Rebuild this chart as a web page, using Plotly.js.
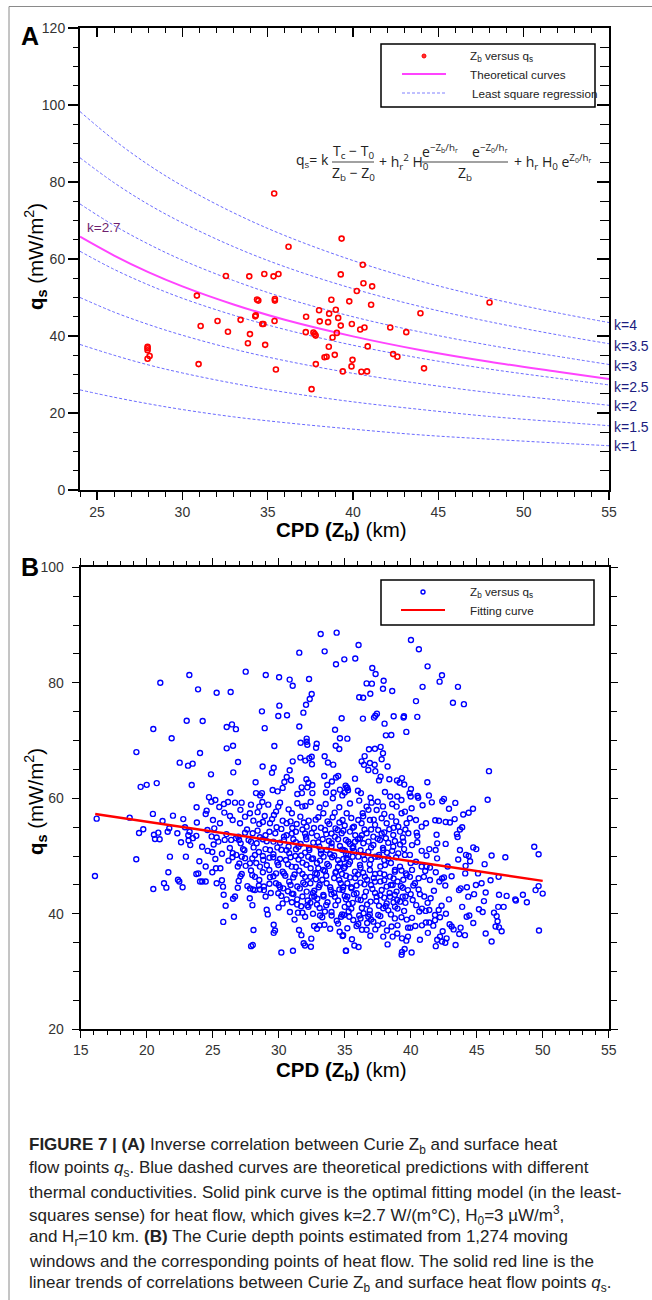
<!DOCTYPE html>
<html><head><meta charset="utf-8">
<script src="https://cdn.plot.ly/plotly-3.0.1.min.js"></script>
<style>html,body{margin:0;padding:0;background:#fff}#chart{width:652px;height:1300px}</style>
</head><body><div id="chart"></div>
<script>
// ---------- Panel A data ----------
const kX = [24, 26, 28, 30, 33, 36, 40, 44, 48, 52, 55];
const kCurve1   = [26.0, 24.1, 22.4, 20.9, 19.0, 17.5, 15.8, 14.3, 13.2, 12.2, 11.5];
const kCurve1p5 = [37.8, 35.0, 32.5, 30.4, 27.7, 25.4, 22.9, 20.9, 19.1, 17.7, 16.7];
const kCurve2   = [50.0, 46.2, 43.0, 40.2, 36.6, 33.6, 30.3, 27.6, 25.3, 23.4, 22.0];
const kCurve2p5 = [62.0, 57.3, 53.3, 49.8, 45.4, 41.7, 37.6, 34.2, 31.4, 29.0, 27.3];
const kCurve3   = [74.3, 68.7, 63.9, 59.7, 54.4, 49.9, 45.0, 41.0, 37.6, 34.7, 32.6];
const kCurve3p5 = [86.3, 79.8, 74.2, 69.4, 63.2, 58.0, 52.3, 47.6, 43.7, 40.3, 38.0];
const kCurve4   = [98.3, 90.9, 84.5, 79.0, 72.0, 66.1, 59.6, 54.2, 49.8, 46.0, 43.5];
const kFit      = [65.8, 60.9, 56.6, 52.9, 48.2, 44.2, 39.9, 36.3, 33.3, 30.7, 28.8];
const kLabels = ["k=4", "k=3.5", "k=3", "k=2.5", "k=2", "k=1.5", "k=1"];

const aPoints = [[35.38,77.0],[36.22,63.2],[32.55,55.6],[33.92,55.5],[34.80,56.1],[35.34,55.5],[35.63,56.1],[30.85,50.5],[34.37,49.5],[34.45,49.2],[35.42,49.2],[35.42,49.6],[34.27,45.1],[34.30,45.4],[35.40,43.9],[34.68,43.1],[34.75,43.1],[33.41,44.2],[32.06,43.9],[31.07,42.6],[32.67,41.1],[33.96,40.5],[33.84,38.1],[34.85,37.7],[27.96,37.2],[27.96,36.8],[27.96,36.3],[28.08,34.8],[27.96,34.1],[30.95,32.7],[35.48,31.3],[37.57,26.2],[37.25,45.0],[38.01,46.7],[38.05,43.8],[38.54,43.6],[37.23,41.0],[37.68,40.9],[37.75,40.5],[37.81,40.1],[38.58,37.2],[37.82,32.7],[38.33,34.5],[38.45,34.6],[39.33,65.3],[40.57,58.5],[39.28,56.0],[40.61,53.7],[41.12,52.9],[40.22,51.7],[38.73,49.4],[39.78,49.0],[41.06,48.1],[38.99,46.8],[38.60,45.8],[39.13,44.7],[39.28,42.7],[39.93,43.1],[40.42,41.7],[40.67,42.2],[43.95,45.9],[48.0,48.7],[42.18,42.2],[43.12,41.0],[39.05,40.8],[38.80,39.6],[40.86,37.3],[38.93,35.1],[39.97,33.8],[39.91,32.1],[39.40,30.8],[40.49,30.7],[40.82,30.8],[42.35,35.3],[42.60,34.6],[44.16,31.6]];

// ---------- Panel B data ----------
const bHighLeft = [[33.18,88.45],[34.39,88.68],[33.48,85.45],[31.56,85.22],[34.34,83.2],[34.97,84.06],[27.5,81.93],[29.02,81.35],[30.03,80.95],[30.83,80.55],[31.06,79.5],[32.3,80.66],[23.23,81.35],[21.03,80.02],[23.89,78.87],[25.3,78.29],[26.36,78.4],[32.5,78.06],[32.35,77.2],[32.07,76.2],[30.05,76.04],[28.73,75.06],[31.87,74.83],[29.97,74.25],[30.63,74.37],[23.03,73.44],[24.24,73.39],[20.5,72.0],[26.06,72.35],[26.46,72.8],[26.76,71.97],[28.94,72.15],[31.56,72.44],[34.77,73.85],[34.27,71.88],[35.2,70.33],[34.64,70.39],[21.89,70.39],[32.12,70.33],[32.12,69.8],[32.17,69.28],[31.66,69.63],[32.88,69.45],[32.83,68.76],[34.32,69.1],[34.59,68.53],[26.06,68.65],[26.54,69.1],[29.67,69.05],[19.22,68.0],[24.04,67.84],[31.64,67.05],[32.32,66.93],[32.5,67.2],[32.02,66.53],[33.48,67.28],[32.52,65.9],[33.73,66.2],[34.13,65.83],[26.92,66.28],[22.5,66.17],[23.13,65.65],[23.48,66.0],[28.78,65.5],[29.62,65.3],[29.49,64.43],[31.06,66.4],[30.83,64.85],[26.56,64.49],[24.87,64.15],[30.61,63.7],[30.93,63.12],[30.43,62.83],[28.25,62.77],[32.1,63.3],[32.55,62.3],[32.25,62.7],[32.17,61.9],[31.74,61.9],[33.45,63.87],[34.51,63.87],[34.34,63.6],[33.68,62.3],[34.03,62.9],[35.07,62.2],[35.2,61.8],[19.54,61.98],[20.0,62.33],[20.76,62.63],[23.41,62.3],[26.33,61.0],[28.28,60.9],[28.6,60.5],[28.73,60.9],[29.54,61.45],[29.92,61.2],[30.3,61.8],[31.41,60.75],[31.76,60.9],[32.55,60.9],[33.58,61.0],[34.16,61.0],[34.64,61.5],[24.72,60.2],[25.2,59.7]];
const bHighRight = [[40.02,87.4],[40.62,85.8],[36.05,86.55],[35.8,84.2],[41.28,82.85],[37.09,82.56],[37.34,81.52],[42.19,80.2],[42.37,81.3],[36.66,79.9],[37.06,79.85],[37.95,80.36],[40.9,79.3],[43.58,79.3],[37.9,78.97],[38.6,78.57],[36.94,78.1],[36.1,77.5],[36.4,77.4],[40.4,76.83],[43.2,76.54],[44.03,76.3],[36.38,73.8],[37.22,73.97],[37.32,74.3],[37.44,74.66],[38.71,74.2],[39.49,74.2],[39.46,74.0],[40.5,74.1],[38.02,72.93],[39.67,71.5],[38.12,70.9],[38.53,70.96],[36.84,68.5],[37.29,68.57],[37.72,68.9],[37.9,67.8],[36.51,67.3],[36.28,66.4],[36.46,65.8],[36.91,66.1],[37.27,65.8],[37.8,66.75],[36.79,64.9],[37.32,64.7],[38.25,65.5],[35.78,63.4],[37.72,63.75],[37.6,63.1],[38.38,63.3],[38.96,63.1],[39.16,62.7],[39.34,63.5],[39.51,62.4],[41.26,62.77],[45.93,64.7],[40.02,61.6],[39.92,60.9],[40.0,60.3],[40.52,60.4],[40.57,60.1],[41.38,60.5],[38.05,61.1],[36.23,60.9],[36.0,61.3],[35.15,61.9],[35.25,61.4],[35.0,61.0],[34.82,60.5],[38.98,60.3],[38.45,60.3],[36.96,60.1],[42.52,59.9],[42.39,59.5],[43.38,59.2],[45.83,59.75]];
const bLowLeft = [[16.08,46.55],[16.21,56.48],[18.71,56.65],[19.21,49.44],[19.42,54.0],[19.74,54.63],[20.5,44.3],[20.47,57.3],[20.88,54.05],[20.55,53.7],[20.98,52.9],[20.63,52.96],[21.2,56.07],[21.31,45.28],[21.49,44.53],[21.64,47.2],[21.76,49.9],[21.59,54.2],[21.71,54.8],[21.99,57.0],[22.37,45.9],[22.47,45.6],[22.72,44.6],[22.97,49.9],[22.77,56.4],[22.32,53.94],[23.15,53.6],[23.25,54.2],[23.17,52.7],[23.5,53.1],[23.76,53.5],[23.76,46.9],[23.91,47.0],[24.04,45.6],[24.21,45.6],[23.99,49.1],[24.47,48.2],[24.47,45.6],[24.62,50.9],[24.97,50.7],[24.97,47.2],[25.25,47.9],[25.58,47.9],[25.3,45.3],[25.7,45.8],[25.78,44.7],[25.83,43.3],[25.98,41.4],[25.8,38.6],[26.61,39.5],[26.54,42.6],[26.69,43.0],[25.07,52.0],[25.43,52.5],[24.92,53.4],[25.3,53.2],[25.12,54.8],[25.91,52.8],[26.04,53.8],[26.4,52.8],[26.77,53.1],[27.12,52.2],[26.52,50.5],[26.79,50.2],[27.02,48.7],[27.1,46.5],[26.97,45.7],[26.9,44.5],[27.2,46.9],[27.63,44.8],[27.83,44.4],[28.06,44.2],[27.81,42.7],[28.01,41.5],[28.09,37.2],[27.91,34.4],[28.04,34.6],[28.2,44.1],[28.58,44.2],[28.88,44.1],[29.01,43.0],[29.17,39.9],[29.09,40.7],[29.62,36.7],[29.72,37.1],[29.62,38.1],[30.2,33.3],[31.08,33.6],[31.54,37.2],[31.72,36.3],[31.89,34.9],[31.99,34.5],[32.47,35.7],[32.44,34.3],[30.85,40.3],[31.46,40.2],[32.17,41.5],[32.25,41.2],[33.13,39.7],[32.93,42.6],[32.7,43.0],[32.68,37.9],[32.9,37.4],[34.01,39.7],[33.46,38.1],[34.62,36.9],[34.88,36.3],[34.73,39.5],[35.1,33.6]];
const bCoreLeft = [[23.78,58.44],[24.54,57.86],[25.85,59.02],[26.16,59.36],[26.69,59.25],[27.19,59.25],[27.9,58.9],[28.53,58.56],[28.76,59.36],[29.21,58.9],[29.97,58.56],[30.1,59.25],[30.75,58.09],[31.41,59.13],[31.79,58.56],[32.02,58.67],[32.42,59.36],[33.38,57.4],[33.56,59.02],[34.24,57.52],[34.59,58.44],[24.47,57.29],[25.02,56.25],[25.55,55.67],[25.88,57.52],[26.31,56.94],[26.51,56.25],[27.07,55.67],[27.45,56.82],[27.82,57.4],[28.08,56.13],[28.53,55.55],[28.94,56.94],[29.34,55.67],[29.64,57.11],[29.84,54.98],[30.3,56.13],[30.6,55.67],[31.03,54.86],[31.36,55.55],[31.64,56.82],[32.12,55.09],[32.27,56.13],[32.67,54.86],[33.0,56.71],[33.51,54.52],[33.83,55.55],[34.09,56.71],[34.47,54.52],[34.84,56.25],[35.15,57.4],[26.94,53.36],[27.45,54.05],[27.72,52.78],[28.03,53.94],[28.33,52.21],[28.58,53.25],[29.09,52.55],[29.34,51.05],[29.74,53.94],[30.1,52.32],[30.4,53.36],[30.75,51.63],[31.11,52.9],[31.31,51.17],[31.66,52.09],[32.07,53.36],[32.32,51.05],[32.62,52.32],[33.08,51.63],[33.33,52.9],[33.63,51.05],[34.01,52.21],[34.26,53.36],[34.64,51.74],[35.02,50.94],[35.27,52.49],[27.45,49.61],[27.82,48.74],[28.2,50.19],[28.58,48.17],[28.83,49.32],[29.29,47.59],[29.59,49.78],[29.97,48.45],[30.3,47.3],[30.55,49.32],[30.98,48.17],[31.26,50.01],[31.56,47.47],[31.81,48.86],[32.24,49.9],[32.42,47.88],[32.77,47.01],[33.13,49.21],[33.38,47.59],[33.68,48.63],[34.04,49.78],[34.34,47.3],[34.64,48.74],[34.95,47.88],[35.15,49.61],[28.53,45.86],[28.88,44.72],[29.34,46.32],[29.79,45.28],[29.97,43.55],[30.35,44.41],[30.8,45.57],[31.11,43.43],[31.41,44.72],[31.86,45.4],[32.12,43.84],[32.5,42.97],[32.82,45.97],[33.03,44.59],[33.38,43.26],[33.63,45.28],[33.94,44.13],[34.26,42.97],[34.59,45.86],[34.89,44.59],[35.1,42.51]];
const bLowRight = [[49.36,51.6],[49.69,50.3],[49.46,44.1],[49.69,44.8],[50.0,43.5],[49.72,37.1],[48.5,43.3],[48.8,42.0],[47.92,42.5],[47.97,42.3],[47.17,49.8],[46.66,46.4],[46.69,43.3],[47.04,41.2],[46.63,41.2],[47.27,43.1],[46.89,36.97],[46.69,37.65],[46.43,37.8],[46.13,50.1],[46.05,45.8],[45.68,43.7],[45.55,42.2],[45.17,40.8],[45.45,40.3],[46.31,40.2],[46.51,39.6],[45.68,36.6],[46.13,35.2],[46.58,38.7],[44.97,51.2],[44.74,51.5],[44.19,50.2],[44.39,50.0],[43.73,51.05],[44.16,48.3],[44.13,47.0],[43.66,44.1],[43.78,44.4],[44.26,44.6],[44.94,45.0],[45.37,45.3],[44.36,42.97],[44.24,39.5],[44.44,39.7],[44.74,38.4],[43.68,36.5],[44.11,36.3],[43.78,37.6],[44.72,58.2],[44.39,57.5],[43.98,57.2],[43.9,55.0],[43.73,54.6],[43.5,53.8],[43.55,53.3],[43.33,56.4],[42.97,55.8],[42.65,55.9],[42.14,56.1],[41.86,56.2],[41.96,53.7],[42.01,52.2],[42.65,52.1],[41.89,51.05],[41.41,51.2],[40.83,50.9],[40.5,52.4],[40.1,51.9],[39.94,50.2],[39.56,50.2],[40.5,53.5],[40.45,54.05],[39.31,32.9],[39.34,33.4],[40.07,33.3],[39.54,33.9],[39.67,35.35],[39.79,36.05],[39.97,37.6],[39.34,35.75],[38.98,36.6],[38.63,36.05],[38.55,37.8],[38.25,34.7],[37.92,36.05],[37.32,37.3],[36.94,36.2],[36.66,37.25],[36.31,37.25],[36.05,34.25],[35.73,34.5],[35.55,35.6],[35.09,33.6],[34.84,36.16],[40.35,37.9],[40.85,38.0],[41.15,38.5],[41.41,38.5],[41.71,37.95],[41.84,38.9],[42.22,39.4],[42.67,40.0],[42.42,36.97],[42.22,36.05],[42.01,35.5],[42.37,35.2],[42.62,35.0],[42.72,35.75],[43.1,37.8],[43.25,37.3],[42.95,38.2],[40.15,42.4],[40.42,41.5],[40.7,43.4],[41.03,43.0],[41.28,41.9],[41.51,42.7],[41.76,44.0],[41.46,45.85],[42.17,45.6],[42.37,46.1],[42.52,46.3],[42.62,44.9],[42.34,41.4],[42.12,40.66],[41.84,39.8],[41.41,40.66],[41.13,40.5],[40.85,40.9],[40.65,40.4],[40.83,48.2],[41.2,48.2],[41.1,47.4],[41.46,48.0],[40.6,46.15],[40.32,45.3],[39.94,46.4],[40.1,47.6],[39.64,47.0],[39.44,45.9],[39.26,44.8],[39.79,44.1],[39.39,42.97],[38.98,42.4],[38.81,41.24],[38.43,42.97],[38.18,41.8],[37.92,40.95],[37.54,39.8],[37.17,38.64],[36.79,39.5],[36.43,40.1],[36.03,38.24],[35.65,38.93],[35.35,39.5],[34.94,39.8]];
const bCoreRight = [[34.77,53.94],[35.09,52.78],[35.4,54.23],[35.7,55.09],[36.03,56.25],[36.36,57.4],[36.66,58.56],[37.04,59.25],[37.42,57.98],[37.8,56.54],[38.18,55.67],[38.55,56.82],[38.93,58.56],[39.31,57.4],[39.69,55.67],[40.07,58.27],[40.4,56.25],[40.83,55.09],[41.16,55.67],[35.02,48.17],[35.4,49.03],[35.78,47.3],[36.16,48.45],[36.53,46.43],[36.91,47.59],[37.29,45.57],[37.67,47.01],[38.05,48.45],[38.43,46.43],[38.81,47.59],[39.19,48.17],[34.84,44.13],[35.2,42.97],[35.52,44.41],[35.9,43.55],[36.21,42.39],[36.61,43.84],[36.96,42.11],[37.42,42.97],[37.8,44.13],[38.18,44.71],[38.63,44.99],[38.93,43.84],[34.89,51.05],[35.27,50.19],[35.65,51.63],[36.03,49.9],[36.41,52.21],[36.79,50.76],[37.17,51.92],[37.54,49.9],[37.92,51.05],[38.3,49.61],[38.68,51.63],[39.06,50.47],[39.44,52.49],[39.82,53.94],[39.19,54.23],[38.68,53.65],[38.12,53.07],[37.67,52.78],[37.17,53.36],[36.66,53.94],[36.16,53.07],[35.78,52.49],[36.28,55.67],[36.91,56.25],[37.54,54.52],[38.38,54.63],[39.06,55.09],[39.56,57.69],[39.94,56.54]];
const bCoreExtra = [[29.6,50.3],[30.2,51.1],[30.8,50.5],[31.5,49.4],[32.0,50.6],[32.6,49.6],[33.2,50.4],[33.9,50.3],[34.5,49.3],[35.1,50.4],[35.7,50.9],[36.4,50.2],[37.0,49.4],[37.6,50.2],[38.2,50.6],[29.8,47.0],[30.5,46.6],[31.1,46.3],[31.8,46.9],[32.4,46.4],[33.0,47.9],[33.6,46.6],[34.2,46.2],[34.8,46.9],[35.4,46.3],[36.0,46.8],[36.7,45.9],[37.3,46.9],[38.0,45.8],[38.7,46.1],[30.0,45.0],[30.7,43.9],[31.4,42.5],[32.0,45.1],[32.7,44.0],[33.3,45.9],[34.0,43.4],[34.6,44.2],[35.2,45.3],[35.9,44.9],[36.5,45.1],[37.1,44.3],[37.7,43.2],[38.4,43.6],[39.0,45.6],[30.3,41.8],[31.0,42.0],[31.7,41.3],[32.4,41.9],[33.1,41.0],[33.7,42.0],[34.3,41.5],[35.0,41.2],[35.6,41.9],[36.3,41.0],[36.9,40.6],[37.6,41.4],[38.3,40.6],[39.0,40.9],[39.6,41.9],[31.2,39.0],[32.0,39.5],[33.5,40.4],[34.4,38.8],[35.3,40.4],[36.1,39.7],[37.0,39.0],[37.9,38.3],[38.8,39.2],[39.7,39.0],[30.6,53.6],[31.3,54.2],[32.0,53.9],[32.9,53.5],[33.6,53.8],[34.3,54.8],[35.0,55.3],[35.8,53.6],[36.5,54.6],[37.3,55.4],[38.0,54.1],[38.8,52.6],[39.4,53.2],[27.9,47.5],[28.5,50.7],[29.0,53.6],[27.3,51.2],[26.2,49.2],[26.9,48.2],[25.7,50.4],[28.2,46.4],[25.2,49.5],[24.2,51.6],[23.3,51.9],[22.6,52.4],[24.6,54.5],[23.8,55.8],[22.9,55.0],[34.1,60.0],[35.4,59.1],[36.1,59.6],[37.5,59.4],[38.6,59.0],[39.3,59.7],[40.9,58.8],[41.6,59.3],[42.9,58.2],[37.9,58.6],[36.8,58.0],[33.1,58.4],[31.0,57.4],[29.8,57.7],[28.4,57.6],[27.1,58.0],[25.5,58.5],[24.9,59.4],[40.6,44.2],[41.0,46.4],[41.9,47.2],[42.8,48.2],[43.1,46.5],[43.6,49.4],[42.0,49.6],[41.2,50.1],[40.4,49.0],[40.0,43.4],[39.2,42.1],[39.8,37.6],[41.3,36.7],[40.7,35.5],[41.9,34.4],[43.4,34.6],[42.9,42.5],[43.9,41.2],[44.8,43.4],[45.1,47.0],[44.5,49.1],[45.6,48.6]];
const bCoreDense = [[28.8,55.9],[29.5,56.4],[30.9,56.0],[31.9,55.8],[32.8,56.3],[33.7,56.0],[34.6,55.8],[35.5,56.6],[36.4,56.9],[37.2,56.3],[38.0,57.3],[38.9,56.0],[27.6,54.6],[28.4,54.4],[29.3,54.2],[30.2,54.7],[31.0,53.9],[31.8,54.6],[32.5,54.0],[33.2,54.9],[34.0,53.9],[34.9,54.4],[35.6,54.9],[36.3,53.6],[37.0,54.6],[37.8,53.9],[38.7,54.9],[39.6,54.6],[27.0,52.8],[27.9,52.5],[28.8,52.9],[29.6,52.5],[30.4,52.8],[31.3,52.4],[32.1,52.9],[33.0,52.4],[33.8,52.6],[34.5,52.9],[35.4,52.1],[36.0,52.9],[36.8,52.5],[37.5,53.0],[38.3,52.3],[39.2,52.0],[26.3,51.4],[27.4,51.0],[28.1,51.5],[29.0,51.2],[29.9,51.5],[30.6,51.0],[31.5,51.6],[32.3,51.4],[33.2,51.0],[34.0,51.6],[34.8,51.1],[35.6,51.4],[36.2,51.0],[37.0,51.5],[37.9,51.4],[38.6,50.9],[39.5,51.2],[26.5,49.8],[27.2,49.9],[28.0,49.6],[28.8,50.0],[29.3,49.7],[30.1,49.5],[30.9,49.8],[31.7,50.1],[32.5,49.5],[33.4,49.9],[34.2,50.1],[34.9,49.5],[35.6,49.9],[36.5,49.4],[37.3,49.9],[38.0,49.3],[38.9,49.8],[40.0,48.8],[27.5,48.3],[28.3,48.8],[29.1,48.4],[29.9,48.9],[30.7,48.6],[31.3,48.1],[32.1,48.5],[32.9,48.8],[33.8,48.3],[34.5,48.1],[35.3,48.6],[36.2,48.0],[36.9,48.6],[37.7,48.2],[38.5,48.8],[39.3,47.5],[28.0,46.7],[28.8,47.2],[29.6,46.5],[30.4,47.0],[31.2,46.8],[32.0,46.4],[32.9,46.9],[33.5,47.4],[34.3,47.1],[35.1,46.6],[35.8,46.2],[36.4,47.1],[37.2,46.2],[38.0,46.8],[38.8,47.3],[39.7,46.7],[28.5,44.9],[29.3,45.2],[30.1,44.6],[30.9,45.0],[31.6,44.4],[32.4,45.3],[33.1,45.0],[33.9,44.6],[34.7,45.3],[35.5,44.6],[36.2,45.4],[37.0,45.0],[37.7,45.6],[38.5,45.0],[39.4,44.5],[40.2,44.9],[29.4,43.6],[30.2,43.1],[31.0,43.5],[31.8,43.0],[32.6,43.6],[33.4,43.0],[34.2,43.6],[35.0,43.1],[35.7,43.4],[36.5,43.0],[37.3,43.6],[38.0,42.8],[38.8,43.3],[39.6,43.0],[30.0,41.1],[30.6,42.5],[31.4,41.6],[32.2,42.3],[32.9,41.6],[33.6,41.5],[34.5,42.3],[35.3,41.7],[36.0,42.5],[36.7,41.6],[37.4,42.2],[38.1,41.3],[38.7,42.0],[39.5,40.5],[31.8,40.2],[32.6,40.0],[33.3,39.4],[34.0,40.3],[34.8,39.9],[35.5,40.9],[36.2,39.2],[36.9,39.9],[37.7,39.6],[38.5,39.9],[39.3,39.4],[40.1,39.3],[33.1,38.0],[33.9,37.4],[34.5,38.3],[35.2,37.5],[35.9,37.9],[36.7,38.4],[37.5,38.0],[38.2,37.1],[39.0,38.0]];
const fitX = [16.1, 50.0];
const fitY = [57.3, 45.7];

const captionLines = [
  "<b>FIGURE 7 | (A)</b> Inverse correlation between Curie Z<sub>b</sub> and surface heat",
  "flow points <i>q</i><sub>s</sub>. Blue dashed curves are theoretical predictions with different",
  "thermal conductivities. Solid pink curve is the optimal fitting model (in the least-",
  "squares sense) for heat flow, which gives k=2.7 W/(m°C), H<sub>0</sub>=3 µW/m<sup>3</sup>,",
  "and H<sub>r</sub>=10 km. <b>(B)</b> The Curie depth points estimated from 1,274 moving",
  "windows and the corresponding points of heat flow. The solid red line is the",
  "linear trends of correlations between Curie Z<sub>b</sub> and surface heat flow points <i>q</i><sub>s</sub>."
];

// ---------- helpers (layout positions only) ----------
const W = 652, H = 1300;
const PX = v => v / W;
const PY = v => 1 - v / H;
const bPoints = bHighLeft.concat(bHighRight, bLowLeft, bCoreLeft, bLowRight, bCoreRight, bCoreExtra, bCoreDense);

const FONT = 'Liberation Sans, Arial, Helvetica, sans-serif';
const blueDash = {color: '#6a6aff', width: 1, dash: '3px,2px'};
const kSets = [kCurve4, kCurve3p5, kCurve3, kCurve2p5, kCurve2, kCurve1p5, kCurve1];

const traces = [];
kSets.forEach(ys => traces.push({x: kX, y: ys, type: 'scatter', mode: 'lines', line: Object.assign({shape: 'spline'}, blueDash), xaxis: 'x', yaxis: 'y', hoverinfo: 'skip'}));
traces.push({x: kX, y: kFit, type: 'scatter', mode: 'lines', line: {color: '#ff44ff', width: 2, shape: 'spline'}, xaxis: 'x3', yaxis: 'y3', hoverinfo: 'skip'});
traces.push({x: aPoints.map(p => p[0]), y: aPoints.map(p => p[1]), type: 'scatter', mode: 'markers',
  marker: {symbol: 'circle-open', size: 5, color: '#ff0000', line: {width: 1.6}}, xaxis: 'x3', yaxis: 'y3'});
traces.push({x: bPoints.map(p => p[0]), y: bPoints.map(p => p[1]), type: 'scatter', mode: 'markers',
  marker: {symbol: 'circle-open', size: 5, color: '#0000ff', line: {width: 1.4}}, xaxis: 'x2', yaxis: 'y2'});
traces.push({x: fitX, y: fitY, type: 'scatter', mode: 'lines', line: {color: '#ff0000', width: 2.5}, xaxis: 'x2', yaxis: 'y2'});

const tickFont = {family: FONT, size: 14, color: '#333'};
const baseAx = {showline: true, linecolor: '#000', linewidth: 2, showgrid: false, zeroline: false, tickcolor: '#000', tickwidth: 1.2, tickfont: tickFont, fixedrange: true};

const layout = {
  width: W, height: H, margin: {l: 0, r: 0, t: 0, b: 0}, showlegend: false,
  paper_bgcolor: '#fff', plot_bgcolor: 'rgba(0,0,0,0)', font: {family: FONT, color: '#333'},
  xaxis: Object.assign({}, baseAx, {domain: [PX(80), PX(609)], range: [24, 55], anchor: 'y', ticks: 'outside', ticklen: 8, tick0: 25, dtick: 5,
    minor: {dtick: 1, ticklen: 5, ticks: 'outside', tickcolor: '#000', tickwidth: 1, showgrid: false}}),
  yaxis: Object.assign({}, baseAx, {domain: [PY(490), PY(28)], range: [0, 120], anchor: 'x', ticks: 'outside', ticklen: 10, dtick: 20,
    minor: {dtick: 5, ticklen: 5, ticks: 'outside', tickcolor: '#000', tickwidth: 1, showgrid: false}}),
  xaxis3: Object.assign({}, baseAx, {overlaying: 'x', side: 'top', anchor: 'y', range: [24, 55], ticks: 'inside', ticklen: 9, tick0: 25, dtick: 5, showticklabels: false,
    minor: {dtick: 1, ticklen: 5, ticks: 'inside', tickcolor: '#000', tickwidth: 1, showgrid: false}}),
  yaxis3: Object.assign({}, baseAx, {overlaying: 'y', side: 'right', anchor: 'x', range: [0, 120], ticks: 'inside', ticklen: 12, dtick: 20, showticklabels: false,
    minor: {dtick: 5, ticklen: 9, ticks: 'inside', tickcolor: '#000', tickwidth: 1, showgrid: false}}),
  xaxis2: Object.assign({}, baseAx, {domain: [PX(80.7), PX(608.7)], range: [15, 55], anchor: 'y2', mirror: 'allticks', ticks: 'outside', ticklen: 7, tick0: 15, dtick: 5,
    minor: {dtick: 1, ticklen: 4, ticks: 'outside', tickcolor: '#000', tickwidth: 1, showgrid: false}}),
  yaxis2: Object.assign({}, baseAx, {domain: [PY(1029.3), PY(567.3)], range: [20, 100], anchor: 'x2', mirror: 'allticks', ticks: 'outside', ticklen: 7, tick0: 20, dtick: 20, ticklabelstandoff: 5,
    minor: {dtick: 5, ticklen: 6, ticks: 'outside', tickcolor: '#000', tickwidth: 1, showgrid: false}}),
  shapes: [], annotations: []
};

const S = layout.shapes, A = layout.annotations;
const pline = (x0, y0, x1, y1, line) => S.push({type: 'line', xref: 'paper', yref: 'paper', x0: PX(x0), x1: PX(x1), y0: PY(y0), y1: PY(y1), line: line});
const ptext = (x, y, text, opts) => A.push(Object.assign({xref: 'paper', yref: 'paper', x: PX(x), y: PY(y), text: text, showarrow: false,
  xanchor: 'left', yanchor: 'middle', font: {family: FONT, size: 13, color: '#222'}}, opts || {}));

// frame
pline(9, 6.5, 652, 6.5, {color: '#8a8a8a', width: 1});
pline(9, 6.5, 9, 1300, {color: '#8a8a8a', width: 1});

// legend A
const LF = {family: FONT, size: 11.7, color: '#222'};
S.push({type: 'rect', xref: 'paper', yref: 'paper', x0: PX(381), x1: PX(595), y0: PY(107), y1: PY(44), line: {color: '#000', width: 1.5}, fillcolor: '#fff'});
S.push({type: 'circle', xref: 'paper', yref: 'paper', x0: PX(422), x1: PX(426), y0: PY(58), y1: PY(54), line: {color: '#ff0000', width: 1}, fillcolor: '#ff3030'});
pline(402, 74, 446, 74, {color: '#ff44ff', width: 2});
pline(402, 93, 446, 93, {color: '#8080ff', width: 1, dash: '3px,2px'});
ptext(468, 56, 'Z<sub>b</sub> versus q<sub>s</sub>', {font: LF});
ptext(468, 74, 'Theoretical curves', {font: LF});
ptext(470, 93, 'Least square regression', {font: LF});

// legend B
S.push({type: 'rect', xref: 'paper', yref: 'paper', x0: PX(381), x1: PX(594), y0: PY(625), y1: PY(580), line: {color: '#000', width: 1.5}, fillcolor: '#fff'});
S.push({type: 'circle', xref: 'paper', yref: 'paper', x0: PX(421), x1: PX(425), y0: PY(594), y1: PY(590), line: {color: '#0000ff', width: 1.4}});
pline(401, 610, 445, 610, {color: '#ff0000', width: 2});
ptext(468, 592, 'Z<sub>b</sub> versus q<sub>s</sub>', {font: LF});
ptext(468, 610, 'Fitting curve', {font: LF});

// equation
const EQ = {family: 'Open Sans, Noto Sans, sans-serif', size: 14, color: '#222'};
ptext(331, 161, 'q<sub>s</sub>= k', {xanchor: 'right', font: EQ});
pline(332, 162, 374, 162, {color: '#444', width: 1.2});
ptext(353, 152, 'T<sub>c</sub> − T<sub>0</sub>', {xanchor: 'center', font: EQ});
ptext(353, 173, 'Z<sub>b</sub> − Z<sub>0</sub>', {xanchor: 'center', font: EQ});
ptext(377, 162, '+ h<sub>r</sub><sup>2</sup> H<sub>0</sub>', {font: EQ});
pline(422, 162, 508, 162, {color: '#444', width: 1.2});
ptext(440, 151, 'e<sup>−Z<sub>b</sub>/h<sub>r</sub></sup>', {xanchor: 'center', font: EQ});
ptext(490, 151, 'e<sup>−Z<sub>0</sub>/h<sub>r</sub></sup>', {xanchor: 'center', font: EQ});
ptext(465, 173, 'Z<sub>b</sub>', {xanchor: 'center', font: EQ});
ptext(512, 162, '+ h<sub>r</sub> H<sub>0</sub> e<sup>Z<sub>0</sub>/h<sub>r</sub></sup>', {font: EQ});

// k labels
const kLabelY = [325, 346, 366, 387, 406, 427, 446];
kLabels.forEach((t, i) => ptext(612, kLabelY[i], t, {font: {family: FONT, size: 14, color: '#1c1c80'}}));
ptext(85, 227, 'k=2.7', {font: {family: FONT, size: 13.5, color: '#6e1f6e'}});

// panel letters
ptext(30, 36, '<b>A</b>', {xanchor: 'center', font: {family: FONT, size: 25, color: '#000'}});
ptext(30, 567, '<b>B</b>', {xanchor: 'center', font: {family: FONT, size: 25, color: '#000'}});

// axis titles
const TT = {family: FONT, size: 20.5, color: '#000'};
ptext(341, 531, '<b>CPD (Z<sub>b</sub>)</b> (km)', {xanchor: 'center', font: TT});
ptext(341, 1071, '<b>CPD (Z<sub>b</sub>)</b> (km)', {xanchor: 'center', font: TT});
ptext(35, 257, '<b>q<sub>s</sub></b> (mW/m<sup>2</sup>)', {xanchor: 'center', textangle: -90, font: TT});
ptext(35, 802, '<b>q<sub>s</sub></b> (mW/m<sup>2</sup>)', {xanchor: 'center', textangle: -90, font: TT});

// caption
captionLines.forEach((t, i) => ptext(27, 1146 + i * 23, t, {font: {family: FONT, size: 17, color: '#222'}}));

Plotly.newPlot('chart', traces, layout, {displayModeBar: false, staticPlot: true});
</script></body></html>
